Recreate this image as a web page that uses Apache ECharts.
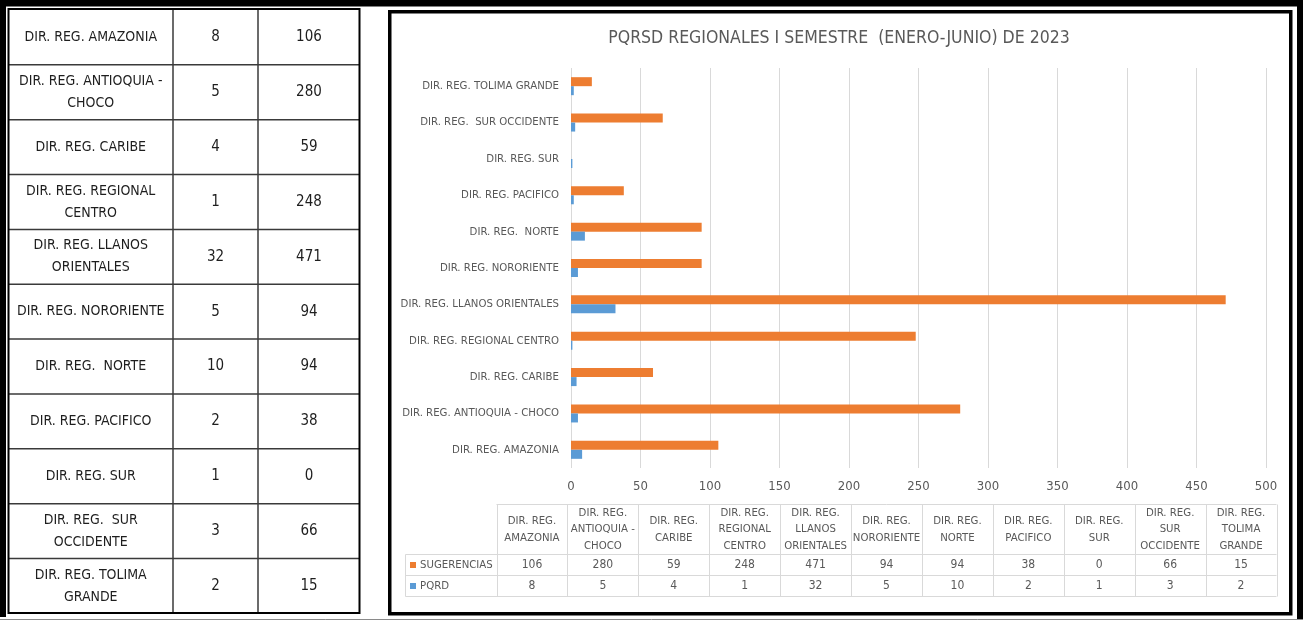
<!DOCTYPE html>
<html><head><meta charset="utf-8">
<script src="https://cdn.jsdelivr.net/npm/echarts@6/dist/echarts.min.js"></script>
<style>html,body{margin:0;padding:0;background:#fff;}#c{width:1303px;height:621px;}</style>
</head><body><div id="c"></div>
<script>
// ---- data ----
const categories = ['DIR. REG. AMAZONIA','DIR. REG. ANTIOQUIA - CHOCO','DIR. REG. CARIBE','DIR. REG. REGIONAL CENTRO','DIR. REG. LLANOS ORIENTALES','DIR. REG. NORORIENTE','DIR. REG.  NORTE','DIR. REG. PACIFICO','DIR. REG. SUR','DIR. REG.  SUR OCCIDENTE','DIR. REG. TOLIMA GRANDE'];
const leftTableNames = ['DIR. REG. AMAZONIA','DIR. REG. ANTIOQUIA -\nCHOCO','DIR. REG. CARIBE','DIR. REG. REGIONAL\nCENTRO','DIR. REG. LLANOS\nORIENTALES','DIR. REG. NORORIENTE','DIR. REG.  NORTE','DIR. REG. PACIFICO','DIR. REG. SUR','DIR. REG.  SUR\nOCCIDENTE','DIR. REG. TOLIMA\nGRANDE'];
const tableHeaders = ['DIR. REG.\nAMAZONIA','DIR. REG.\nANTIOQUIA -\nCHOCO','DIR. REG.\nCARIBE','DIR. REG.\nREGIONAL\nCENTRO','DIR. REG.\nLLANOS\nORIENTALES','DIR. REG.\nNORORIENTE','DIR. REG.\nNORTE','DIR. REG.\nPACIFICO','DIR. REG.\nSUR','DIR. REG.\nSUR\nOCCIDENTE','DIR. REG.\nTOLIMA\nGRANDE'];
const seriesNames = ['SUGERENCIAS','PQRD'];
const sugerencias = [106,280,59,248,471,94,94,38,0,66,15];
const pqrd = [8,5,4,1,32,5,10,2,1,3,2];
const titleText = 'PQRSD REGIONALES I SEMESTRE  (ENERO-JUNIO) DE 2023';

// ---- style ----
const FF = '"Liberation Sans Narrow", "DejaVu Sans Condensed", sans-serif';
const ORANGE = '#ED7D31', BLUE = '#5B9BD5', GRAY = '#595959', GRID = '#D9D9D9';

const els = [];
function rect(x,y,w,h,fill,z){els.push({type:'rect',shape:{x,y,width:w,height:h},style:{fill},z:z||1,silent:true});}
function line(x1,y1,x2,y2,stroke,lw,z){els.push({type:'line',shape:{x1,y1,x2,y2},style:{stroke,lineWidth:lw},z:z||5,silent:true});}
function text(x,y,t,size,fill,align,lh){els.push({type:'text',x,y,z:10,silent:true,style:{text:t,fill,font:size+'px '+FF,align:align||'center',verticalAlign:'middle',textAlign:align||'center',textVerticalAlign:'middle',lineHeight:lh||size*1.3}});}

// outer screenshot frame
rect(0,0,1303,6.5,'#000');
rect(0,0,6,617,'#000');
rect(1297,0,6,620,'#000');
line(0,619.5,1303,619.5,'#8a8a8a',1);

// left table
const LT = {x0:8.5, x1:173, x2:258, x3:360, y0:10, rowH:54.85};
els.push({type:'rect',shape:{x:8.5,y:9,width:351,height:604},style:{fill:'none',stroke:'#000',lineWidth:2},z:6,silent:true});
line(LT.x1,9,LT.x1,613,'#3a3a3a',1.5);
line(LT.x2,9,LT.x2,613,'#3a3a3a',1.5);
for(let i=1;i<categories.length;i++){const y=LT.y0+LT.rowH*i; line(8.5,y,359.5,y,'#3a3a3a',1.5);}
for(let i=0;i<categories.length;i++){
  const cy=LT.y0+LT.rowH*(i+0.5);
  text((LT.x0+LT.x1)/2,cy,leftTableNames[i],14,'#1e1e1e','center',22);
  text((LT.x1+LT.x2)/2,cy,String(pqrd[i]),15,'#1e1e1e','center',22);
  text((LT.x2+LT.x3)/2,cy,String(sugerencias[i]),15,'#1e1e1e','center',22);
}

// chart frame
els.push({type:'rect',shape:{x:389.75,y:11.75,width:901,height:602},style:{fill:'none',stroke:'#000',lineWidth:3.5},z:6,silent:true});

// data table under chart
const DT = {lx:405.5, x0:496.5, x1:1276.5, yTop:504.5, yH:554.5, yR1:575.5, yR2:596.5};
const colW = (DT.x1-DT.x0)/categories.length;
line(DT.x0,DT.yTop,DT.x1,DT.yTop,GRID,1);
[DT.yH,DT.yR1,DT.yR2].forEach(y=>line(DT.lx,y,DT.x1,y,GRID,1));
line(DT.lx,DT.yH,DT.lx,DT.yR2,GRID,1);
for(let i=0;i<=categories.length;i++){const x=Math.round(DT.x0+colW*i)+0.5; line(x,DT.yTop,x,DT.yR2,GRID,1);}
for(let i=0;i<categories.length;i++){
  const cx=DT.x0+colW*(i+0.5);
  text(cx,(DT.yTop+DT.yH)/2,tableHeaders[i],11.3,GRAY,'center',16.5);
  text(cx,(DT.yH+DT.yR1)/2,String(sugerencias[i]),12,GRAY,'center');
  text(cx,(DT.yR1+DT.yR2)/2,String(pqrd[i]),12,GRAY,'center');
}
[[ORANGE,(DT.yH+DT.yR1)/2,seriesNames[0]],[BLUE,(DT.yR1+DT.yR2)/2,seriesNames[1]]].forEach(([c,cy,name])=>{
  rect(410,cy-3,6,6,c,10);
  text(420,cy,name,11.3,GRAY,'left');
});

const chart = echarts.init(document.getElementById('c'),null,{renderer:'canvas'});
chart.setOption({
  animation:false,
  backgroundColor:'#fff',
  title:{text:titleText,left:834,top:24,textAlign:'center',textStyle:{color:GRAY,fontSize:17.5,fontWeight:'normal',fontFamily:FF}},
  grid:{left:571,right:37,top:68,bottom:153,containLabel:false},
  xAxis:{type:'value',min:0,max:500,interval:50,
    axisLine:{show:false},axisTick:{show:false},
    axisLabel:{color:GRAY,fontSize:13,fontFamily:FF,margin:12},
    splitLine:{show:true,lineStyle:{color:GRID,width:1}}},
  yAxis:{type:'category',data:categories,
    axisLine:{show:false},axisTick:{show:false},
    axisLabel:{color:GRAY,fontSize:11.3,fontFamily:FF,margin:12}},
  series:[
    {name:seriesNames[0],type:'bar',data:sugerencias,barWidth:9,barGap:'0%',itemStyle:{color:ORANGE}},
    {name:seriesNames[1],type:'bar',data:pqrd,barWidth:9,barGap:'0%',itemStyle:{color:BLUE}}
  ],
  graphic:{elements:els}
});
</script></body></html>
